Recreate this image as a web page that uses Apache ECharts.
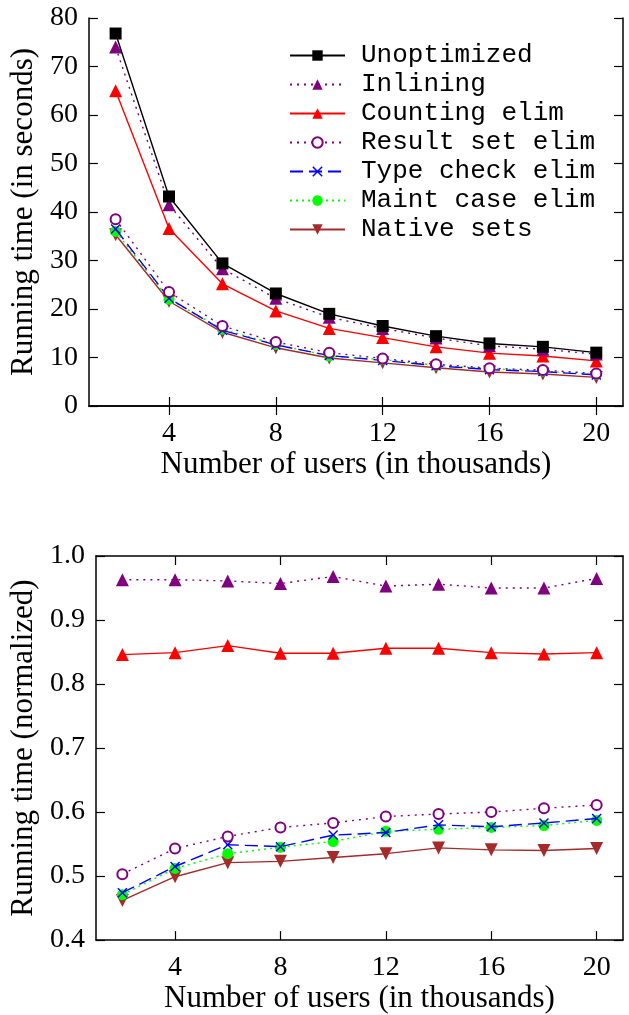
<!DOCTYPE html>
<html>
<head>
<meta charset="utf-8">
<script src="https://cdn.jsdelivr.net/npm/echarts@6/dist/echarts.min.js"></script>
<style>
html,body{margin:0;padding:0;background:#fff;}
#main{width:629px;height:1015px;}
</style>
</head>
<body>
<div id="main"></div>
<script>
// x values: number of users (thousands)
var users = [2, 4, 6, 8, 10, 12, 14, 16, 18, 20];
var xTicks = [4, 8, 12, 16, 20];

// top chart: running time in seconds
var secUnopt    = [76.8, 43.2, 29.4, 23.2, 19.0, 16.5, 14.4, 12.9, 12.2, 11.0];
var secInline   = [74.0, 41.5, 28.3, 22.2, 18.3, 16.0, 14.0, 12.4, 11.7, 10.7];
var secCounting = [65.0, 36.6, 25.2, 19.6, 16.0, 14.1, 12.2, 10.9, 10.3, 9.3];
var secResult   = [38.5, 23.5, 16.5, 13.2, 11.0, 9.8, 8.6, 7.8, 7.4, 6.7];
var secType     = [36.5, 22.2, 15.6, 12.6, 10.4, 9.4, 8.3, 7.5, 7.1, 6.4];
var secMaint    = [36.0, 22.0, 15.8, 12.7, 10.3, 9.6, 8.4, 7.7, 7.2, 6.5];
var secNative   = [35.3, 21.6, 15.2, 12.0, 9.9, 8.9, 7.9, 7.0, 6.6, 5.9];

// bottom chart: normalized running time
var normInline   = [0.963, 0.963, 0.961, 0.957, 0.968, 0.953, 0.956, 0.950, 0.950, 0.965];
var normCounting = [0.846, 0.849, 0.860, 0.848, 0.848, 0.856, 0.856, 0.849, 0.847, 0.849];
var normResult   = [0.503, 0.543, 0.562, 0.576, 0.583, 0.593, 0.597, 0.600, 0.606, 0.611];
var normType     = [0.474, 0.515, 0.549, 0.546, 0.564, 0.568, 0.580, 0.577, 0.583, 0.590];
var normMaint    = [0.471, 0.512, 0.535, 0.545, 0.554, 0.570, 0.573, 0.576, 0.579, 0.587];
var normNative   = [0.462, 0.499, 0.521, 0.523, 0.529, 0.535, 0.544, 0.541, 0.540, 0.543];

var names = ['Unoptimized', 'Inlining', 'Counting elim', 'Result set elim',
             'Type check elim', 'Maint case elim', 'Native sets'];

var crossPath = 'path://M0,1L1,0L5,4L9,0L10,1L6,5L10,9L9,10L5,6L1,10L0,9L4,5Z';
var downTri = 'path://M0,0L10,0L5,9Z';

// style per series name
var styles = {
  'Unoptimized':     {color: '#000000', type: 'solid',  symbol: 'rect',     size: 12},
  'Inlining':        {color: '#800080', type: [2, 5],   symbol: 'triangle', size: 13},
  'Counting elim':   {color: '#ff0000', type: 'solid',  symbol: 'triangle', size: 13},
  'Result set elim': {color: '#800080', type: [2, 5],   symbol: 'emptyCircle', size: 10},
  'Type check elim': {color: '#0000ff', type: [13, 6],  symbol: crossPath,  size: 10},
  'Maint case elim': {color: '#00ff00', type: [2, 4],   symbol: 'circle',   size: 11},
  'Native sets':     {color: '#a52a2a', type: 'solid',  symbol: downTri,    size: 13}
};

function pairs(vals) {
  var out = [];
  for (var i = 0; i < users.length; i++) out.push([users[i], vals[i]]);
  return out;
}

// panel 0 uses axes 0 (main) and 1 (mirror), panel 1 uses axes 2 and 3
function mkSeries(name, vals, panel) {
  var s = styles[name];
  return {
    name: name,
    type: 'line',
    xAxisIndex: panel * 2,
    yAxisIndex: panel * 2,
    data: pairs(vals),
    symbol: s.symbol,
    symbolSize: s.size,
    showAllSymbol: true,
    itemStyle: {color: s.color, borderColor: s.color,
                borderWidth: s.symbol == 'emptyCircle' ? 1.4 : 0},
    lineStyle: {color: s.color, width: 1.4, type: s.type},
    emphasis: {disabled: true},
    animation: false,
    z: 10 - names.indexOf(name)
  };
}

var serifFont = 'Liberation Serif';
var labelStyle = {fontFamily: serifFont, fontSize: 28, color: '#000'};
var nameStyle = {fontFamily: serifFont, fontSize: 31, color: '#000'};
var frameLine = {show: true, lineStyle: {color: '#000', width: 1.5}};
var tickIn = {show: true, inside: true, length: 9, lineStyle: {color: '#000', width: 1.2}};

function xMain(grid, gap) {
  return {
    type: 'value', gridIndex: grid, min: 1, max: 21, position: 'bottom',
    name: 'Number of users (in thousands)', nameLocation: 'middle', nameGap: gap,
    nameTextStyle: nameStyle,
    axisLine: frameLine,
    axisTick: Object.assign({customValues: xTicks}, tickIn),
    axisLabel: Object.assign({customValues: xTicks, margin: 14}, labelStyle),
    splitLine: {show: false}
  };
}
function xMirror(grid) {
  return {
    type: 'value', gridIndex: grid, min: 1, max: 21, position: 'top',
    axisLine: frameLine,
    axisTick: Object.assign({customValues: xTicks}, tickIn),
    axisLabel: {show: false},
    splitLine: {show: false}
  };
}
function yMain(grid, min, max, step, title, gap, fmt) {
  return {
    type: 'value', gridIndex: grid, min: min, max: max, interval: step, position: 'left',
    name: title, nameLocation: 'middle', nameGap: gap,
    nameTextStyle: nameStyle,
    axisLine: frameLine,
    axisTick: tickIn,
    axisLabel: Object.assign({margin: 11, formatter: fmt}, labelStyle),
    splitLine: {show: false}
  };
}
function yMirror(grid, min, max, step) {
  return {
    type: 'value', gridIndex: grid, min: min, max: max, interval: step, position: 'right',
    axisLine: frameLine,
    axisTick: tickIn,
    axisLabel: {show: false},
    splitLine: {show: false}
  };
}

var series = [
  mkSeries('Unoptimized', secUnopt, 0),
  mkSeries('Inlining', secInline, 0),
  mkSeries('Counting elim', secCounting, 0),
  mkSeries('Result set elim', secResult, 0),
  mkSeries('Type check elim', secType, 0),
  mkSeries('Maint case elim', secMaint, 0),
  mkSeries('Native sets', secNative, 0),
  mkSeries('Inlining', normInline, 1),
  mkSeries('Counting elim', normCounting, 1),
  mkSeries('Result set elim', normResult, 1),
  mkSeries('Type check elim', normType, 1),
  mkSeries('Maint case elim', normMaint, 1),
  mkSeries('Native sets', normNative, 1)
];

var myChart = echarts.init(document.getElementById('main'), null, {renderer: 'canvas'});
myChart.setOption({
  backgroundColor: '#fff',
  animation: false,
  grid: [
    {left: 88, top: 18, right: 6, height: 388},
    {left: 96, top: 556, right: 6, height: 389}
  ],
  legend: {
    orient: 'vertical',
    left: 284, top: 36,
    itemWidth: 55, itemHeight: 13, itemGap: 0,
    data: names,
    selectedMode: false,
    textStyle: {fontFamily: 'Liberation Mono', fontSize: 26, color: '#000',
                lineHeight: 29, padding: [0, 0, 0, 11]}
  },
  xAxis: [xMain(0, 43), xMirror(0), xMain(1, 38), xMirror(1)],
  yAxis: [
    yMain(0, 0, 80, 10, 'Running time (in seconds)', 43),
    yMirror(0, 0, 80, 10),
    yMain(1, 0.4, 1.0, 0.1, 'Running time (normalized)', 51, function (v) { return v.toFixed(1); }),
    yMirror(1, 0.4, 1.0, 0.1)
  ],
  series: series
});
</script>
</body>
</html>
